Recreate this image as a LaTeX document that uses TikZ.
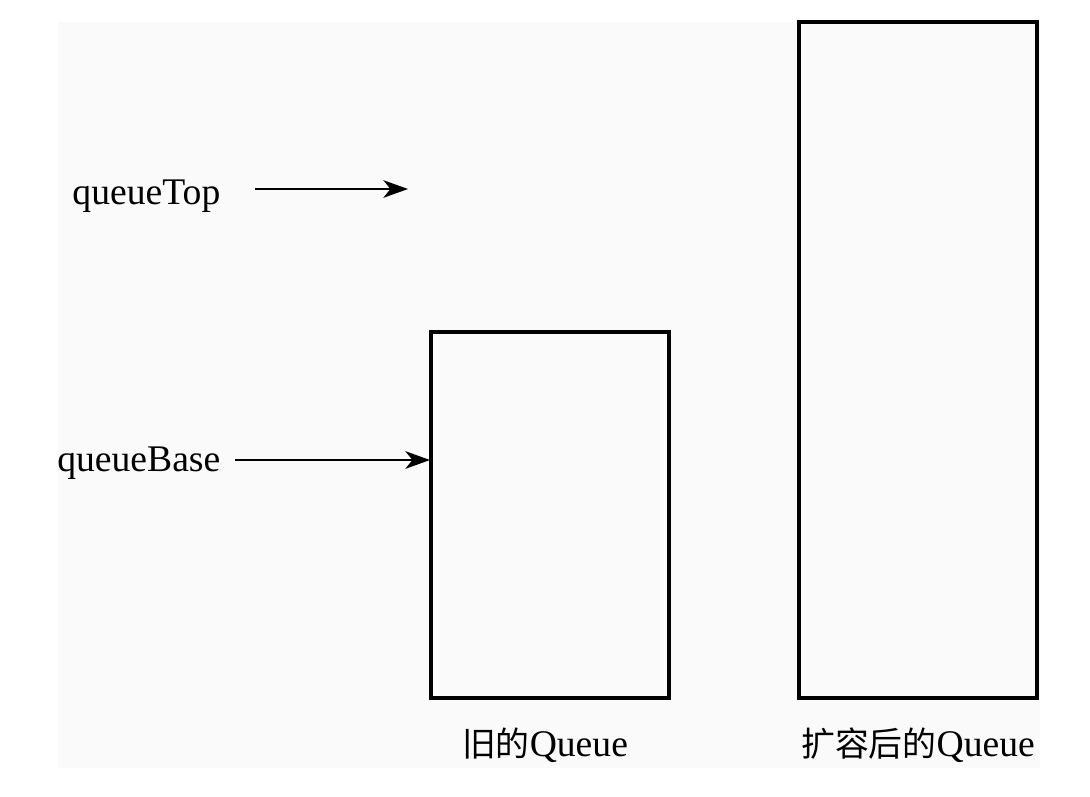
\documentclass[tikz,border=0pt]{standalone}
\usepackage{fontspec}
\setmainfont{Liberation Serif}
\newfontfamily\cjk[Scale=0.9]{Noto Sans CJK SC}
\usetikzlibrary{arrows.meta,positioning}
\definecolor{paper}{HTML}{FAFAFA}
\tikzset{
  queuebox/.style={draw,line width=1pt,minimum width=2.38cm,inner sep=0pt},
  ptr/.style={line width=0.6pt,-{Stealth[length=7pt,width=5pt,inset=2pt]}},
  lbl/.style={font=\fontsize{10.7}{13}\selectfont,inner sep=0pt}
}
\begin{document}
\begin{tikzpicture}[x=0.01cm,y=-0.01cm]
\useasboundingbox (0,0) rectangle (1090,796);
\fill[paper] (58,22) rectangle (1040,768);
% the two queues
\node[queuebox,minimum height=3.66cm] (old) at (550,515) {};
\node[queuebox,minimum height=6.76cm] (new) at (918,360) {};
\node[lbl] (oldlbl) at (545,745) {{\cjk 旧的}Queue};
\node[lbl] (newlbl) at (918,745) {{\cjk 扩容后的}Queue};
% pointers
\node[lbl,anchor=east] (top) at (221,196) {queueTop};
\node[lbl,anchor=east] (base) at (221,463) {queueBase};
\coordinate (topend) at (408,189);
\coordinate (baseend) at (430,460);
\draw[ptr] ([xshift=0.34cm]top.east |- topend) -- (topend);
\draw[ptr] ([xshift=0.14cm]base.east |- baseend) -- (baseend);
\end{tikzpicture}
\end{document}
